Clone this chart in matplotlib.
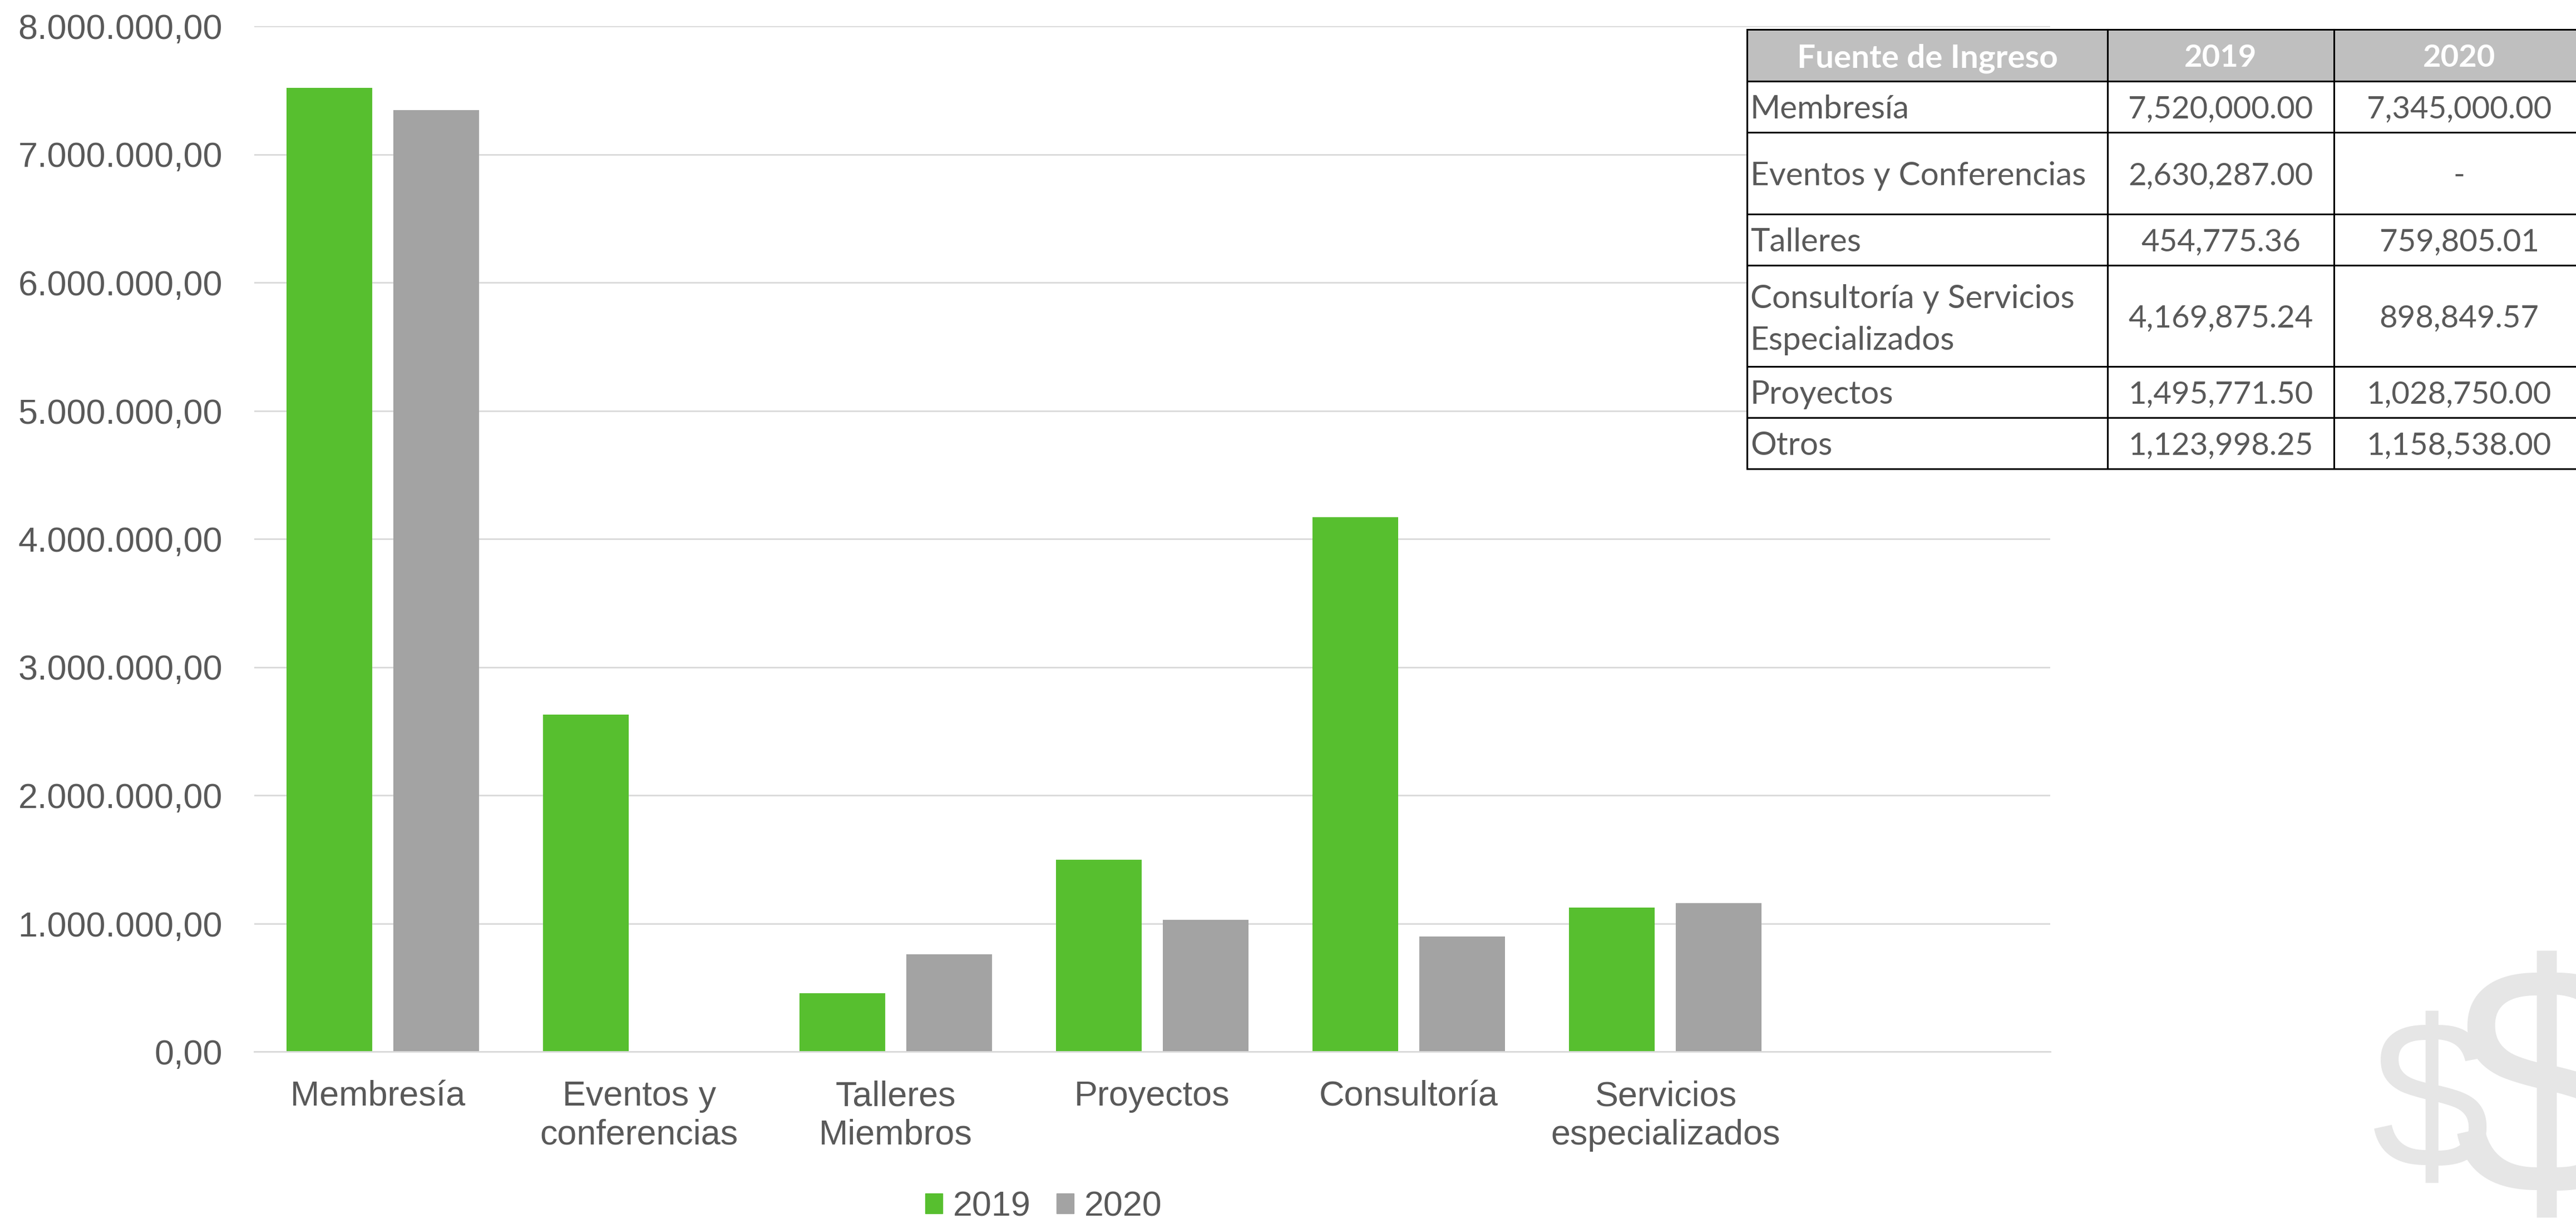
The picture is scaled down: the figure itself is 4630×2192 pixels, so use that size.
import matplotlib
matplotlib.use('Agg')
import matplotlib.pyplot as plt
from matplotlib.patches import Patch
from matplotlib.transforms import Affine2D

W, H = 4630, 2192

categories = ['Membresía ', 'Eventos y\nconferencias', 'Talleres\nMiembros', 'Proyectos', 'Consultoría',
              'Servicios\nespecializados', '']
values_2019 = [7520000.00, 2630287.00, 454775.36, 1495771.50, 4169875.24, 1123998.25, 0]
values_2020 = [7345000.00, 0, 759805.01, 1028750.00, 898849.57, 1158538.00, 0]
y_ticks = [0, 1000000, 2000000, 3000000, 4000000, 5000000, 6000000, 7000000, 8000000]
y_labels = ['0,00', '1.000.000,00', '2.000.000,00', '3.000.000,00', '4.000.000,00',
            '5.000.000,00', '6.000.000,00', '7.000.000,00', '8.000.000,00']

table_header = ['Fuente de Ingreso', '2019', '2020']
table_rows = [
    ['Membresía', '7,520,000.00', '7,345,000.00'],
    ['Eventos y Conferencias', '2,630,287.00', '-'],
    ['Talleres', '454,775.36', '759,805.01'],
    ['Consultoría y Servicios\nEspecializados', '4,169,875.24', '898,849.57'],
    ['Proyectos', '1,495,771.50', '1,028,750.00'],
    ['Otros', '1,123,998.25', '1,158,538.00'],
]

GREEN = '#57BF2F'
GREY = '#A3A3A3'
TEXT = '#595959'
GRID = '#D9D9D9'

plt.rcParams['font.family'] = ['Liberation Sans', 'DejaVu Sans']

fig = plt.figure(figsize=(W / 100, H / 100), dpi=100)
fig.patch.set_facecolor('white')

# dollar signs behind everything, cut by the edge of the image
fig.text(4369 / W, 1 - 2101 / H, '$', fontsize=275, color='#E6E6E6', ha='center', va='baseline', zorder=0)
fig.text(4574 / W, 1 - 2148 / H, '$', fontsize=426, color='#E6E6E6', ha='center', va='baseline', zorder=0)

ax = fig.add_axes([457 / W, 1 - 1891 / H, (3685 - 457) / W, (1891 - 47) / H])
ax.patch.set_alpha(0)
x = list(range(len(categories)))
bar_w = 154 / 461
off = 96 / 461
b1 = ax.bar([i - off for i in x], values_2019, bar_w, color=GREEN, zorder=2)
b2 = ax.bar([i + off for i in x], values_2020, bar_w, color=GREY, zorder=2)

ax.set_xlim(-0.5, 6.5)
ax.set_ylim(0, 8000000)
ax.set_xticks(x)
ax.set_xticklabels(categories, fontsize=45.3, color=TEXT, linespacing=1.22)
ax.set_yticks(y_ticks)
ax.set_yticklabels(y_labels, fontsize=45.3, color=TEXT)
ax.tick_params(axis='both', length=0)
ax.tick_params(axis='x', pad=37)
ax.tick_params(axis='y', pad=41)
ax.grid(axis='y', color=GRID, lw=2.0, zorder=1)
ax.set_axisbelow(True)
for s in ['top', 'right', 'left']:
    ax.spines[s].set_visible(False)
ax.spines['bottom'].set_color(GRID)
ax.spines['bottom'].set_linewidth(2.0)

fig.legend(handles=[Patch(color=GREEN, label='2019'), Patch(color=GREY, label='2020')],
           loc='center', bbox_to_anchor=(1876 / W, 1 - 2170 / H), ncol=2, frameon=False,
           fontsize=45.3, labelcolor=TEXT, handlelength=0.5, handleheight=0.5,
           handletextpad=0.3, columnspacing=0.73, borderpad=0, borderaxespad=0)

# table on top, last column runs off the image
tax = fig.add_axes([0, 0, 1, 1])
tax.axis('off')
col_w = [648, 407, 450]
row_h = [93, 92, 147, 92, 182, 92, 92]
cells = [table_header] + table_rows
tb = tax.table(cellText=cells, colWidths=[c / W for c in col_w], cellLoc='center',
               bbox=[3140 / W, 1 - 843 / H, sum(col_w) / W, sum(row_h) / H])
tb.auto_set_font_size(False)
tb.set_fontsize(42)
for (r, c), cell in tb.get_celld().items():
    cell.set_height(row_h[r] / H)
    cell.set_edgecolor('black')
    cell.set_linewidth(2.2)
    t = cell.get_text()
    t.set_family(['Lato', 'DejaVu Sans'])
    t.set_color(TEXT)
    t.set_linespacing(1.5)
    if c > 0:
        t.set_fontsize(40.5)
    if r == 0:
        cell.set_facecolor('#BFBFBF')
        t.set_color('white')
        t.set_fontweight('bold')
    else:
        cell.set_facecolor('white')
        if c == 0:
            cell.set_text_props(ha='left')
            cell._loc = 'left'
            cell.PAD = 6 / 648
    if '\n' in t.get_text():
        t.set_transform(Affine2D().translate(0, -7))
    else:
        t.set_verticalalignment('center_baseline')

fig.savefig('out.png', dpi=100)
